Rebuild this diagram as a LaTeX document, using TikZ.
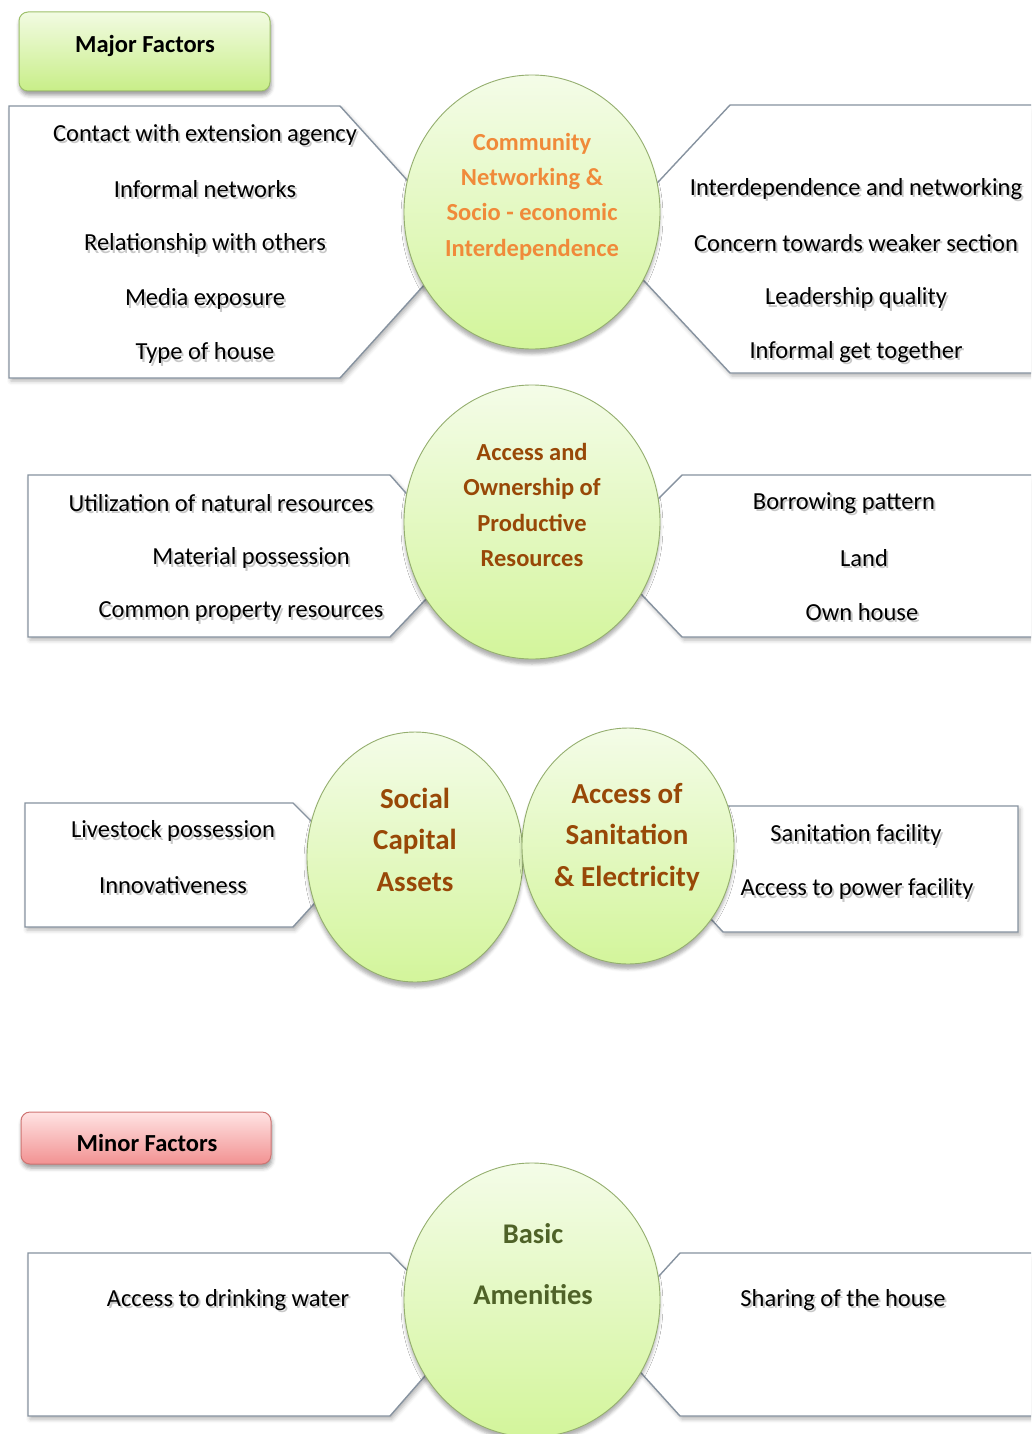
\documentclass[tikz,border=0pt]{standalone}
\usepackage{fontspec}
\setmainfont{Carlito}
\usetikzlibrary{shapes.geometric,shadows.blur}

\definecolor{edgegray}{HTML}{8793A0}
\definecolor{bubbletop}{HTML}{F4FCE8}
\definecolor{bubblebot}{HTML}{D3F59B}
\definecolor{bubbleedge}{HTML}{94AE6E}
\definecolor{greentop}{HTML}{F2FBE2}
\definecolor{greenbot}{HTML}{C8EE88}
\definecolor{greenedge}{HTML}{9DC06A}
\definecolor{redtop}{HTML}{FFE3E3}
\definecolor{redbot}{HTML}{F29292}
\definecolor{rededge}{HTML}{CF7472}
\definecolor{orangetxt}{HTML}{F08A3A}
\definecolor{browntxt}{HTML}{984807}
\definecolor{greentxt}{HTML}{4F6228}

% a factor label with a soft shadow under it
\newcommand\factortext[4]{%
  \node[itemshade] (#1s) at (#2+2,#3+4.5) {#4};
  \node[item] (#1) at (#2,#3+2) {#4};}

\begin{document}
\begin{tikzpicture}[x=1pt,y=-1pt,
  factorbox/.style={draw=edgegray, line width=1.4pt, fill=white, line join=miter,
    blur shadow={shadow xshift=2pt, shadow yshift=-3pt, shadow blur radius=4pt, shadow opacity=30}},
  bubble/.style={ellipse, draw=bubbleedge, line width=0.9pt, top color=bubbletop,
    bottom color=bubblebot, inner sep=0pt,
    blur shadow={shadow xshift=0pt, shadow yshift=-5pt, shadow blur radius=3pt, shadow opacity=30}},
  item/.style={text=black, font=\fontsize{24.5}{29}\selectfont, inner sep=0pt},
  itemshade/.style={item, text=black!55, opacity=0.4},
  bubbletext/.style={align=center, inner sep=0pt, font=\bfseries\fontsize{24.5}{35.3}\selectfont},
  bigtext/.style={align=center, inner sep=0pt, font=\bfseries\fontsize{29}{41.5}\selectfont, text=browntxt},
  header/.style={rounded corners=9pt, line width=1pt, inner sep=0pt,
    blur shadow={shadow xshift=1pt, shadow yshift=-4pt, shadow blur radius=4pt, shadow opacity=40}},
  headertext/.style={inner sep=0pt, font=\bfseries\fontsize{24.5}{29}\selectfont}
]
\useasboundingbox (0,0) rectangle (1031,1434);
\clip (0,0) rectangle (1031,1434);

% ---------- headings ----------
\node[header, draw=greenedge, top color=greentop, bottom color=greenbot,
  minimum width=251pt, minimum height=79pt] (major) at (144.5,51.5) {};
\node[headertext] (majort) at (145,46) {Major Factors};

\node[header, draw=rededge, top color=redtop, bottom color=redbot,
  minimum width=250pt, minimum height=52pt] (minor) at (146,1138) {};
\node[headertext] (minort) at (147,1143) {Minor Factors};

% ---------- factor boxes (their points run in under the circles) ----------
\draw[factorbox] (9,106) -- (340,106) -- (463,242) -- (340,378) -- (9,378) -- cycle;
\draw[factorbox] (1045,105) -- (730,105) -- (605,239) -- (730,373) -- (1045,373);
\draw[factorbox] (28,475) -- (390,475) -- (464,559) -- (390,637) -- (28,637) -- cycle;
\draw[factorbox] (1045,475) -- (682,475) -- (603,554) -- (682,637) -- (1045,637);
\draw[factorbox] (25,803) -- (293,803) -- (352,862) -- (293,927) -- (25,927) -- cycle;
\draw[factorbox] (700,806) -- (1018,806) -- (1018,932) -- (723,932) -- (700,907) -- cycle;
\draw[factorbox] (28,1253) -- (390,1253) -- (465,1330) -- (390,1416) -- (28,1416) -- cycle;
\draw[factorbox] (1045,1253) -- (680,1253) -- (606,1334) -- (680,1416) -- (1045,1416);

% ---------- circles ----------
\node[bubble, minimum width=256pt, minimum height=274pt] (c1) at (532,212) {};
\node[bubble, minimum width=256pt, minimum height=274pt] (c2) at (532,522) {};
\node[bubble, minimum width=216pt, minimum height=250pt] (c3) at (415,857) {};
\node[bubble, minimum width=212pt, minimum height=236pt] (c4) at (628,846) {};
\node[bubble, minimum width=256pt, minimum height=274pt] (c5) at (532,1300) {};

\node[bubbletext, text=orangetxt] (c1t) at (532,196.5)
  {Community\\Networking \&\\Socio - economic\\Interdependence};
\node[bubbletext, text=browntxt] (c2t) at (532,505)
  {Access and\\Ownership of\\Productive\\Resources};
\node[bigtext] (c3t) at (415,839.5) {Social\\Capital\\Assets};
\node[bigtext] (c4t) at (627,837) {Access of\\Sanitation\\\& Electricity};
\node[align=center, inner sep=0pt, text=greentxt,
  font=\bfseries\fontsize{28.5}{61}\selectfont] (c5t) at (533,1264) {Basic\\Amenities};

% ---------- factor labels ----------
\factortext{a1}{205}{133}{Contact with extension agency}
\factortext{a2}{205}{187}{Informal networks}
\factortext{a3}{205}{242}{Relationship with others}
\factortext{a4}{205}{297}{Media exposure}
\factortext{a5}{205}{351}{Type of house}

\factortext{b1}{856}{187}{Interdependence and networking}
\factortext{b2}{856}{241}{Concern towards weaker section}
\factortext{b3}{856}{296}{Leadership quality}
\factortext{b4}{856}{350}{Informal get together}

\factortext{d1}{221}{501}{Utilization of natural resources}
\factortext{d2}{251}{556}{Material possession}
\factortext{d3}{241}{610}{Common property resources}

\factortext{e1}{844}{501}{Borrowing pattern}
\factortext{e2}{864}{556}{Land}
\factortext{e3}{862}{610}{Own house}

\factortext{f1}{173}{829}{Livestock possession}
\factortext{f2}{173}{883}{Innovativeness}

\factortext{g1}{856}{833}{Sanitation facility}
\factortext{g2}{857}{887}{Access to power facility}

\factortext{h1}{228}{1298}{Access to drinking water}
\factortext{k1}{843}{1298}{Sharing of the house}
\end{tikzpicture}
\end{document}
